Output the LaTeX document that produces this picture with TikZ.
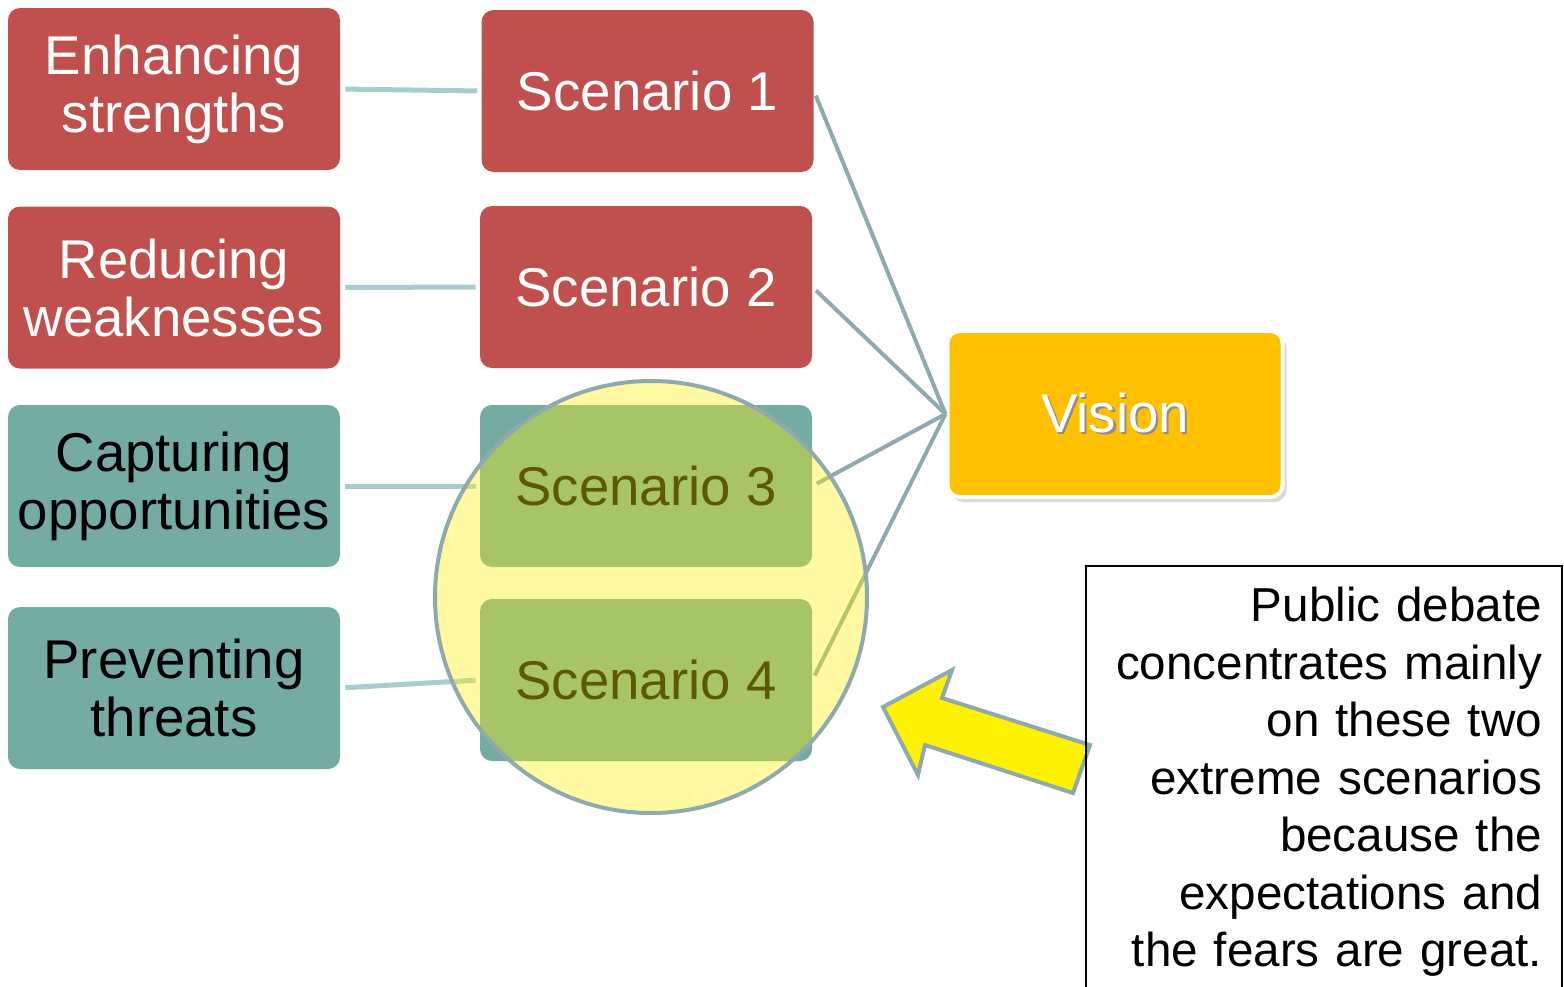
\documentclass[tikz,border=0pt]{standalone}
\usepackage{fontspec}
\setmainfont{Liberation Sans}
\usetikzlibrary{shadows}
\definecolor{swotred}{RGB}{192,80,77}
\definecolor{swotteal}{RGB}{116,172,163}
\definecolor{visionorange}{RGB}{255,192,0}
\definecolor{linkblue}{RGB}{168,204,208}
\definecolor{spokegrey}{RGB}{143,170,174}

\begin{document}
\begin{tikzpicture}[x=0.5pt,y=-0.5pt,
    box/.style={rectangle,rounded corners=6pt,minimum width=166pt,minimum height=81pt,inner sep=0pt,align=center,font=\fontsize{27.3}{29}\selectfont},
    redbox/.style={box,fill=swotred,text=white},
    tealbox/.style={box,fill=swotteal,text=black},
    link/.style={draw=linkblue,line width=2.5pt,shorten <=2.5pt,shorten >=2pt},
    spoke/.style={draw=spokegrey,line width=2pt,shorten <=2.5pt}]
			\useasboundingbox (0,0) rectangle (1564,986);
			\node[redbox]  (L1) at (174,89)    {Enhancing\\strengths};
			\node[redbox]  (L2) at (174,287.5) {Reducing\\weaknesses};
			\node[tealbox] (L3) at (174,486)   {Capturing\\opportunities};
			\node[tealbox] (L4) at (174,688)   {Preventing\\threats};
			\node[redbox]  (S1) at (647.5,91)  {Scenario 1};
			\node[redbox]  (S2) at (646,287)   {Scenario 2};
			\node[tealbox] (S3) at (646,486)   {Scenario 3};
			\node[tealbox] (S4) at (646,680)   {Scenario 4};
			\node[box, fill=visionorange, text=white, draw=white, line width=2pt,
			      minimum width=167.5pt, minimum height=83pt,
			      drop shadow={opacity=0.3,shadow xshift=2pt,shadow yshift=-2.5pt}]
			      (V) at (1115,414)
			      {\makebox[0pt][l]{\hspace{1.2pt}\raisebox{-1.2pt}{\textcolor{black!45}{Vision}}}Vision};
			\draw[link] (L1.east) -- (S1.west);
			\draw[link] (L2.east) -- (S2.west);
			\draw[link] (L3.east) -- (S3.west);
			\draw[link] (L4.east) -- (S4.west);
			\draw[spoke] (S1.east) -- (V.west);
			\draw[spoke] (S2.east) -- (V.west);
			\draw[spoke] (S3.east) -- (V.west);
			\draw[spoke] (S4.east) -- (V.west);
			\node[circle, minimum size=216pt, inner sep=0pt, draw=spokegrey, line width=2pt,
			      fill=yellow, fill opacity=0.37] (focus) at (651,597) {};
			\draw[draw=spokegrey, line width=2pt, fill=yellow, miter limit=20]
			      (883,707) -- (952,670) -- (942,698) -- (1090,745) -- (1073,793)
			      -- (925,745) -- (918,775) -- cycle;
			\node[draw=black, line width=1pt, anchor=north west, text width=218pt,
			      inner xsep=10pt, inner ysep=10.5pt, align=right,
			      font=\fontsize{23.8}{28.75}\selectfont] (note) at (1085,565)
			      {Public debate\\concentrates mainly\\on these two\\extreme scenarios\\because the\\expectations and\\the fears are great.\rule[-20pt]{0pt}{0pt}};
		\end{tikzpicture}
\end{document}
